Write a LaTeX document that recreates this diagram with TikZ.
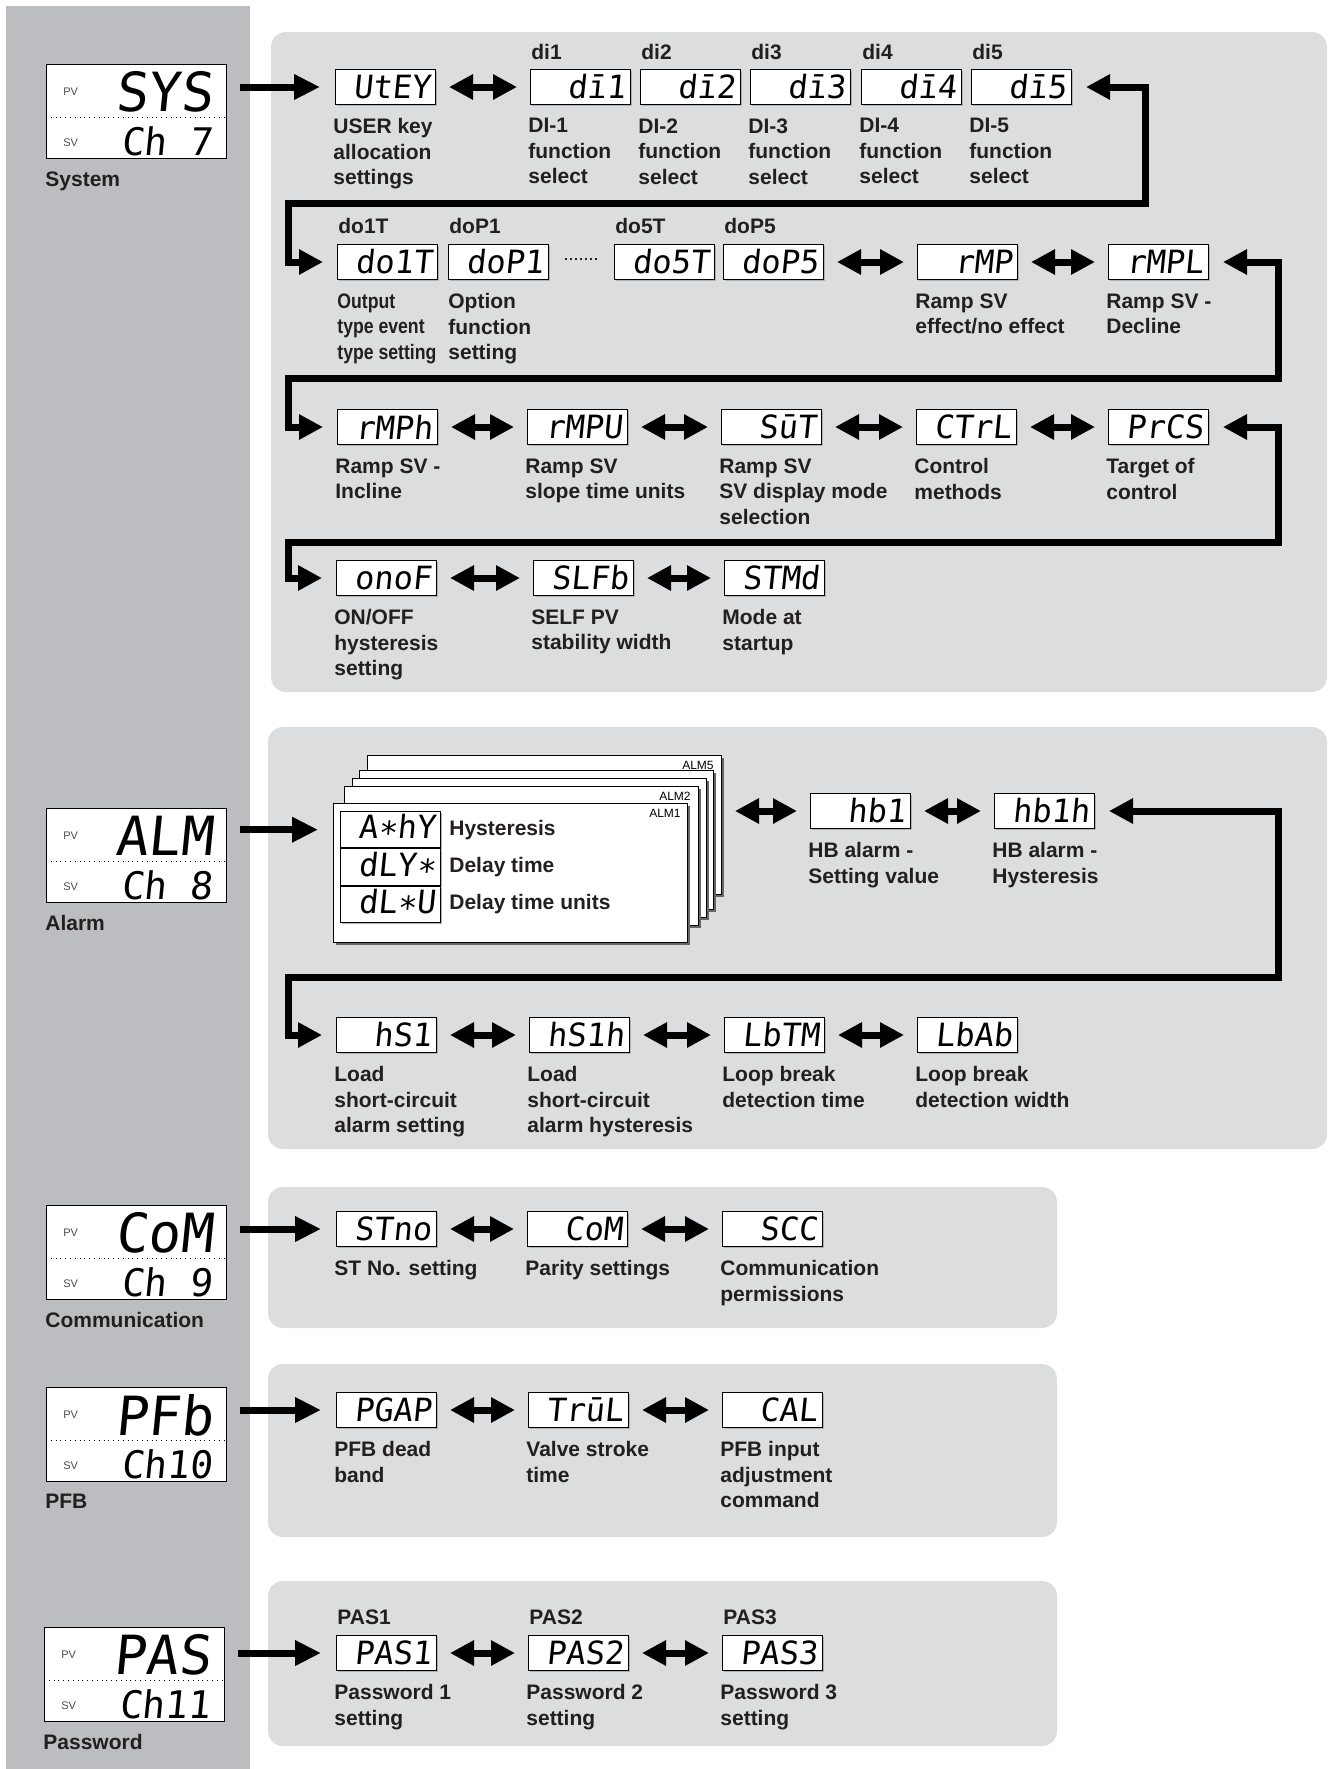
\documentclass[tikz,border=0pt]{standalone}
\usepackage{fontspec}
\setmainfont{Liberation Sans}
\newfontfamily\segfont[FakeSlant=0.1]{DejaVu Sans Mono}
\newfontfamily\condfont[FakeStretch=0.84]{Liberation Sans}
\usetikzlibrary{arrows.meta,positioning,shadows}

\definecolor{stripgray}{HTML}{BCBDC0}
\definecolor{panelgray}{HTML}{DCDDDF}
\definecolor{inkblack}{HTML}{231F20}
\newcommand\segstar{\raisebox{-3pt}{*}}

\tikzset{
  seg/.style={draw, line width=0.5pt, fill=white, anchor=west,
    minimum height=17.5pt, text width=45pt, inner xsep=2.5pt, inner ysep=0pt, align=right,
    font=\segfont\fontsize{16}{16}\selectfont,
    drop shadow={shadow xshift=0.8pt, shadow yshift=-0.8pt, fill=black!30, opacity=1}},
  lcd/.style={draw, line width=0.5pt, fill=white, anchor=north west,
    minimum width=90pt, minimum height=47pt,
    drop shadow={shadow xshift=1pt, shadow yshift=-1pt, fill=black!25, opacity=1}},
  pvtag/.style={anchor=west, inner sep=0pt, text=black!70, font=\fontsize{5.5}{6}\selectfont},
  bigseg/.style={anchor=east, inner sep=0pt, font=\segfont\fontsize{27}{27}\selectfont},
  svseg/.style={anchor=east, inner sep=0pt, font=\segfont\fontsize{19}{19}\selectfont},
  grouplabel/.style={anchor=north west, inner sep=0pt, text=inkblack, font=\bfseries\fontsize{10.5}{12.75}\selectfont},
  desc/.style={anchor=north west, align=left, inner sep=0pt, text=inkblack, font=\bfseries\fontsize{10.5}{12.75}\selectfont},
  tag/.style={anchor=south west, inner sep=0pt, text=inkblack, font=\bfseries\fontsize{10.5}{12.75}\selectfont},
  almtxt/.style={anchor=west, inner sep=0pt, text=inkblack, font=\bfseries\fontsize{10.5}{12.75}\selectfont},
  almtag/.style={anchor=north east, inner sep=0pt, font=\fontsize{6}{7}\selectfont},
  card/.style={draw, line width=0.5pt, fill=white, anchor=north west,
    minimum width=177pt, minimum height=69.5pt,
    drop shadow={shadow xshift=1pt, shadow yshift=-1pt, fill=black!60, opacity=1}},
  panel/.style={fill=panelgray, rounded corners=7.5pt},
  feed/.style={line width=3.5pt, -{Triangle[length=13pt,width=12pt]}, shorten <=6.5pt, shorten >=7.5pt},
  twoway/.style={line width=3.5pt, {Triangle[length=12pt,width=12pt]}-{Triangle[length=12pt,width=12pt]}, shorten <=6.5pt, shorten >=6.5pt},
  loopback/.style={twoway, line join=miter, shorten <=7pt, shorten >=7pt}
}

\begin{document}
\begin{tikzpicture}[x=0.5pt,y=-0.5pt]
\useasboundingbox (0,0) rectangle (1329,1769);

\fill [stripgray] (6,6) rectangle (250,1769);
\fill [panel] (271,32) rectangle (1327,692);
\fill [panel] (268,727) rectangle (1327,1149);
\fill [panel] (268,1187) rectangle (1057,1328);
\fill [panel] (268,1364) rectangle (1057,1537);
\fill [panel] (268,1581) rectangle (1057,1746);

% left displays
\node (sysbox) [lcd] at (46,64) {};
\draw [dotted] ([yshift=-3pt]sysbox.west) -- ([yshift=-3pt]sysbox.east);
\node [pvtag] at ([shift={(17,28)}]sysbox.north west) {PV};
\node [pvtag] at ([shift={(17,-16)}]sysbox.south west) {SV};
\node [bigseg] at ([shift={(-14,28)}]sysbox.north east) {SYS};
\node [svseg] at ([shift={(-14,-18)}]sysbox.south east) {Ch 7};
\node [grouplabel] at ([shift={(-1,12)}]sysbox.south west) {System};

\node (almbox) [lcd] at (46,808) {};
\draw [dotted] ([yshift=-3pt]almbox.west) -- ([yshift=-3pt]almbox.east);
\node [pvtag] at ([shift={(17,28)}]almbox.north west) {PV};
\node [pvtag] at ([shift={(17,-16)}]almbox.south west) {SV};
\node [bigseg] at ([shift={(-14,28)}]almbox.north east) {ALM};
\node [svseg] at ([shift={(-14,-18)}]almbox.south east) {Ch 8};
\node [grouplabel] at ([shift={(-1,12)}]almbox.south west) {Alarm};

\node (combox) [lcd] at (46,1205) {};
\draw [dotted] ([yshift=-3pt]combox.west) -- ([yshift=-3pt]combox.east);
\node [pvtag] at ([shift={(17,28)}]combox.north west) {PV};
\node [pvtag] at ([shift={(17,-16)}]combox.south west) {SV};
\node [bigseg] at ([shift={(-14,28)}]combox.north east) {CoM};
\node [svseg] at ([shift={(-14,-18)}]combox.south east) {Ch 9};
\node [grouplabel] at ([shift={(-1,12)}]combox.south west) {Communication};

\node (pfbbox) [lcd] at (46,1387) {};
\draw [dotted] ([yshift=-3pt]pfbbox.west) -- ([yshift=-3pt]pfbbox.east);
\node [pvtag] at ([shift={(17,28)}]pfbbox.north west) {PV};
\node [pvtag] at ([shift={(17,-16)}]pfbbox.south west) {SV};
\node [bigseg] at ([shift={(-14,28)}]pfbbox.north east) {PFb};
\node [svseg] at ([shift={(-14,-18)}]pfbbox.south east) {Ch10};
\node [grouplabel] at ([shift={(-1,12)}]pfbbox.south west) {PFB};

\node (pasbox) [lcd] at (44,1627) {};
\draw [dotted] ([yshift=-3pt]pasbox.west) -- ([yshift=-3pt]pasbox.east);
\node [pvtag] at ([shift={(17,28)}]pasbox.north west) {PV};
\node [pvtag] at ([shift={(17,-16)}]pasbox.south west) {SV};
\node [bigseg] at ([shift={(-14,28)}]pasbox.north east) {PAS};
\node [svseg] at ([shift={(-14,-18)}]pasbox.south east) {Ch11};
\node [grouplabel] at ([shift={(-1,12)}]pasbox.south west) {Password};

% system
\node (utey) [seg] at (335,87) {UtEY};
\node (di1) [seg] at (530,87) {dī1};
\node (di2) [seg] at (640,87) {dī2};
\node (di3) [seg] at (750,87) {dī3};
\node (di4) [seg] at (861,87) {dī4};
\node (di5) [seg] at (971,87) {dī5};

\node (do1t) [seg] at (337,262) {do1T};
\node (dop1) [seg] at (448,262) {doP1};
\node (dots) [font=\fontsize{9}{9}\selectfont] at (581,260) {.......};
\node (do5t) [seg] at (614,262) {do5T};
\node (dop5) [seg] at (723,262) {doP5};
\node (rmp) [seg] at (917,262) {rMP};
\node (rmpl) [seg] at (1108,262) {rMPL};

\node (rmph) [seg] at (337,427) {rMPh};
\node (rmpu) [seg] at (527,427) {rMPU};
\node (sut) [seg] at (721,427) {SūT};
\node (ctrl) [seg] at (916,427) {CTrL};
\node (prcs) [seg] at (1108,427) {PrCS};

\node (onof) [seg] at (336,578) {onoF};
\node (slfb) [seg] at (533,578) {SLFb};
\node (stmd) [seg] at (724,578) {STMd};

\node [tag] at ([shift={(1,-9)}]di1.north west) {di1};
\node [tag] at ([shift={(1,-9)}]di2.north west) {di2};
\node [tag] at ([shift={(1,-9)}]di3.north west) {di3};
\node [tag] at ([shift={(1,-9)}]di4.north west) {di4};
\node [tag] at ([shift={(1,-9)}]di5.north west) {di5};
\node [tag] at ([shift={(1,-10)}]do1t.north west) {do1T};
\node [tag] at ([shift={(1,-10)}]dop1.north west) {doP1};
\node [tag] at ([shift={(1,-10)}]do5t.north west) {do5T};
\node [tag] at ([shift={(1,-10)}]dop5.north west) {doP5};

\node [desc] at ([shift={(-2,13)}]utey.south west) {USER key\\allocation\\settings};
\node [desc] at ([shift={(-2,13)}]di1.south west) {DI-1\\function\\select};
\node [desc] at ([shift={(-2,13)}]di2.south west) {DI-2\\function\\select};
\node [desc] at ([shift={(-2,13)}]di3.south west) {DI-3\\function\\select};
\node [desc] at ([shift={(-2,13)}]di4.south west) {DI-4\\function\\select};
\node [desc] at ([shift={(-2,13)}]di5.south west) {DI-5\\function\\select};
\node [desc, font=\condfont\bfseries\fontsize{10.5}{12.75}\selectfont] at ([shift={(0,13)}]do1t.south west) {Output\\type event\\type setting};
\node [desc] at ([shift={(0,13)}]dop1.south west) {Option\\function\\setting};
\node [desc] at ([shift={(-2,13)}]rmp.south west) {Ramp SV\\effect/no effect};
\node [desc] at ([shift={(-2,13)}]rmpl.south west) {Ramp SV -\\Decline};
\node [desc] at ([shift={(-2,13)}]rmph.south west) {Ramp SV -\\Incline};
\node [desc] at ([shift={(-2,13)}]rmpu.south west) {Ramp SV\\slope time units};
\node [desc] at ([shift={(-2,13)}]sut.south west) {Ramp SV\\SV display mode\\selection};
\node [desc] at ([shift={(-2,13)}]ctrl.south west) {Control\\methods};
\node [desc] at ([shift={(-2,13)}]prcs.south west) {Target of\\control};
\node [desc] at ([shift={(-2,13)}]onof.south west) {ON/OFF\\hysteresis\\setting};
\node [desc] at ([shift={(-2,13)}]slfb.south west) {SELF PV\\stability width};
\node [desc] at ([shift={(-2,13)}]stmd.south west) {Mode at\\startup};

\coordinate (turn1r) at (1145,203);
\coordinate (turn1l) at (288,203);
\coordinate (turn2r) at (1278,378);
\coordinate (turn2l) at (288,378);
\coordinate (turn3r) at (1278,542);
\coordinate (turn3l) at (288,542);

\draw [feed] (sysbox.east |- utey) -- (utey);
\draw [twoway] (utey) -- (di1);
\draw [loopback] (di5.east) -| (turn1r) -- (turn1l) |- (do1t.west);
\draw [twoway] (dop5) -- (rmp);
\draw [twoway] (rmp) -- (rmpl);
\draw [loopback] (rmpl.east) -| (turn2r) -- (turn2l) |- (rmph.west);
\draw [twoway] (rmph) -- (rmpu);
\draw [twoway] (rmpu) -- (sut);
\draw [twoway] (sut) -- (ctrl);
\draw [twoway] (ctrl) -- (prcs);
\draw [loopback] (prcs.east) -| (turn3r) -- (turn3l) |- (onof.west);
\draw [twoway] (onof) -- (slfb);
\draw [twoway] (slfb) -- (stmd);

% alarm
\node (alm5) [card] at (367,755) {};
\node (alm4) [card] at (359,770) {};
\node (alm3) [card] at (352,778) {};
\node (alm2) [card] at (344,786) {};
\node (alm1) [card] at (333,803) {};
\node [almtag] at ([shift={(-8,6)}]alm5.north east) {ALM5};
\node [almtag] at ([shift={(-8,6)}]alm2.north east) {ALM2};
\node [almtag] at ([shift={(-7,6)}]alm1.north east) {ALM1};

\node (almhy) [seg, anchor=north west, minimum height=18.2pt] at (340,811) {A\segstar hY};
\node (almdly) [seg, minimum height=18.2pt, below=0pt of almhy] {dLY\segstar};
\node (almdlu) [seg, minimum height=18.2pt, below=0pt of almdly] {dL\segstar U};
\node [almtxt] at ([xshift=4pt]almhy.east) {Hysteresis};
\node [almtxt] at ([xshift=4pt]almdly.east) {Delay time};
\node [almtxt] at ([xshift=4pt]almdlu.east) {Delay time units};

\node (hb1) [seg] at (810,811) {hb1};
\node (hb1h) [seg] at (994,811) {hb1h};
\node (hs1) [seg] at (336,1035) {hS1};
\node (hs1h) [seg] at (529,1035) {hS1h};
\node (lbtm) [seg] at (724,1035) {LbTM};
\node (lbab) [seg] at (917,1035) {LbAb};

\node [desc] at ([shift={(-2,13)}]hb1.south west) {HB alarm -\\Setting value};
\node [desc] at ([shift={(-2,13)}]hb1h.south west) {HB alarm -\\Hysteresis};
\node [desc] at ([shift={(-2,13)}]hs1.south west) {Load\\short-circuit\\alarm setting};
\node [desc] at ([shift={(-2,13)}]hs1h.south west) {Load\\short-circuit\\alarm hysteresis};
\node [desc] at ([shift={(-2,13)}]lbtm.south west) {Loop break\\detection time};
\node [desc] at ([shift={(-2,13)}]lbab.south west) {Loop break\\detection width};

\coordinate (turn4r) at (1278,977);
\coordinate (turn4l) at (288,977);

\draw [feed] (almbox.east |- almhy) -- (alm1.west |- almhy);
\draw [twoway] (alm5.east |- hb1) -- (hb1);
\draw [twoway] (hb1) -- (hb1h);
\draw [loopback] (hb1h.east) -| (turn4r) -- (turn4l) |- (hs1.west);
\draw [twoway] (hs1) -- (hs1h);
\draw [twoway] (hs1h) -- (lbtm);
\draw [twoway] (lbtm) -- (lbab);

% communication
\node (stno) [seg] at (336,1229) {STno};
\node (com) [seg] at (527,1229) {CoM};
\node (scc) [seg] at (722,1229) {SCC};
\node [desc] at ([shift={(-2,13)}]stno.south west) {ST No. setting};
\node [desc] at ([shift={(-2,13)}]com.south west) {Parity settings};
\node [desc] at ([shift={(-2,13)}]scc.south west) {Communication\\permissions};
\draw [feed] (combox.east |- stno) -- (stno);
\draw [twoway] (stno) -- (com);
\draw [twoway] (com) -- (scc);

% PFB
\node (pgap) [seg] at (336,1410) {PGAP};
\node (trul) [seg] at (528,1410) {TrūL};
\node (cal) [seg] at (722,1410) {CAL};
\node [desc] at ([shift={(-2,13)}]pgap.south west) {PFB dead\\band};
\node [desc] at ([shift={(-2,13)}]trul.south west) {Valve stroke\\time};
\node [desc] at ([shift={(-2,13)}]cal.south west) {PFB input\\adjustment\\command};
\draw [feed] (pfbbox.east |- pgap) -- (pgap);
\draw [twoway] (pgap) -- (trul);
\draw [twoway] (trul) -- (cal);

% password
\node (pas1) [seg] at (336,1653) {PAS1};
\node (pas2) [seg] at (528,1653) {PAS2};
\node (pas3) [seg] at (722,1653) {PAS3};
\node [tag] at ([shift={(1,-10)}]pas1.north west) {PAS1};
\node [tag] at ([shift={(1,-10)}]pas2.north west) {PAS2};
\node [tag] at ([shift={(1,-10)}]pas3.north west) {PAS3};
\node [desc] at ([shift={(-2,13)}]pas1.south west) {Password 1\\setting};
\node [desc] at ([shift={(-2,13)}]pas2.south west) {Password 2\\setting};
\node [desc] at ([shift={(-2,13)}]pas3.south west) {Password 3\\setting};
\draw [feed] (pasbox.east |- pas1) -- (pas1);
\draw [twoway] (pas1) -- (pas2);
\draw [twoway] (pas2) -- (pas3);
\end{tikzpicture}
\end{document}
